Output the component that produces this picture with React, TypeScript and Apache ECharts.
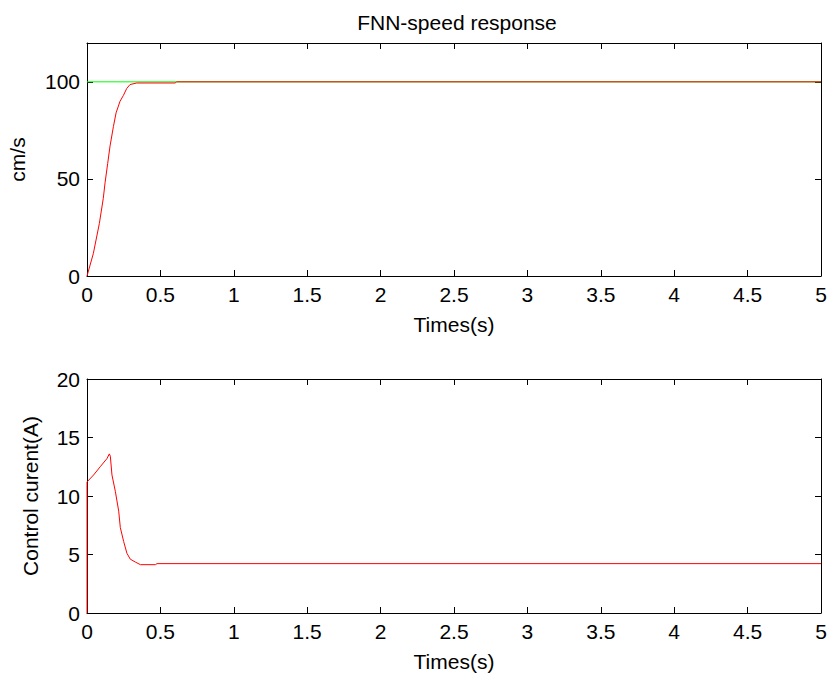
import React, { useEffect, useRef } from "react";
import * as echarts from "echarts";

// Top plot: speed response
const refT = [0, 5];
const refV = [100, 100];
const speedT = [0, 0.043, 0.084, 0.111, 0.123, 0.141, 0.157, 0.18, 0.198, 0.225, 0.248, 0.27, 0.293, 0.339, 0.6, 0.611, 5];
const speedV = [0, 11.5, 27, 40, 48, 58, 67, 77, 84, 90, 93, 96.5, 98.6, 99.4, 99.4, 100, 100];

// Bottom plot: control current
const curT = [0, 0, 0.045, 0.09, 0.136, 0.152, 0.159, 0.17, 0.193, 0.216, 0.227, 0.25, 0.272, 0.295, 0.33, 0.364, 0.466, 0.477, 5];
const curV = [0, 11.2, 11.8, 12.5, 13.2, 13.6, 13.4, 11.8, 10.4, 8.7, 7.3, 6.1, 5.1, 4.6, 4.35, 4.13, 4.13, 4.22, 4.22];

const xTicks = { min: 0, max: 5, interval: 0.5 };
const topY = { min: 0, max: 120, interval: 50 };
const botY = { min: 0, max: 20, interval: 5 };

const titleText = "FNN-speed response";
const xName = "Times(s)";
const topYName = "cm/s";
const botYName = "Control curent(A)";

const FONT = "Liberation Sans, Arial, sans-serif";
const FS = 21;

function zip(a: number[], b: number[]) {
  return a.map((v, i) => [v, b[i]]);
}

export default function App() {
  const ref = useRef<HTMLDivElement>(null);
  useEffect(() => {
    if (!ref.current) return;
    const chart = echarts.init(ref.current, undefined, { renderer: "svg" });
    const axLine = { show: true, onZero: false, lineStyle: { color: "#000", width: 1 } };
    const tick = { show: true, inside: true, length: 6, lineStyle: { color: "#000", width: 1 } };
    const lbl = { color: "#000", fontFamily: FONT, fontSize: FS };
    const mkX = (gi: number, pos: string, showLabel: boolean, name?: string) => ({
      type: "value",
      gridIndex: gi,
      position: pos,
      ...xTicks,
      axisLine: axLine,
      axisTick: tick,
      splitLine: { show: false },
      axisLabel: { ...lbl, show: showLabel, margin: 8, formatter: (v: number) => String(v) },
      name: name,
      nameLocation: "middle",
      nameGap: 38,
      nameTextStyle: { ...lbl },
    });
    const mkY = (gi: number, pos: string, showLabel: boolean, range: any, name?: string, gap?: number) => ({
      type: "value",
      gridIndex: gi,
      position: pos,
      ...range,
      axisLine: axLine,
      axisTick: tick,
      splitLine: { show: false },
      axisLabel: { ...lbl, show: showLabel, margin: 7, showMaxLabel: range.max % range.interval === 0 },
      name: name,
      nameLocation: "middle",
      nameGap: gap,
      nameTextStyle: { ...lbl },
    });
    chart.setOption({
      animation: false,
      backgroundColor: "#fff",
      title: {
        text: titleText,
        left: 452,
        textAlign: "center",
        top: 7,
        textStyle: { color: "#000", fontFamily: FONT, fontSize: FS, fontWeight: "normal" },
      },
      grid: [
        { left: 87, right: 9, top: 43, height: 233, outerBoundsMode: "none", containLabel: false },
        { left: 87, right: 9, top: 379, height: 234, outerBoundsMode: "none", containLabel: false },
      ],
      xAxis: [
        mkX(0, "bottom", true, xName),
        mkX(0, "top", false),
        mkX(1, "bottom", true, xName),
        mkX(1, "top", false),
      ],
      yAxis: [
        mkY(0, "left", true, topY, topYName, 59),
        mkY(0, "right", false, topY),
        mkY(1, "left", true, botY, botYName, 46),
        mkY(1, "right", false, botY),
      ],
      series: [
        {
          type: "line",
          xAxisIndex: 0,
          yAxisIndex: 0,
          data: zip(refT, refV),
          showSymbol: false,
          lineStyle: { color: "#00ff00", width: 1 },
        },
        {
          type: "line",
          xAxisIndex: 0,
          yAxisIndex: 0,
          data: zip(speedT, speedV),
          showSymbol: false,
          lineStyle: { color: "#ff0000", width: 1 },
        },
        {
          type: "line",
          xAxisIndex: 2,
          yAxisIndex: 2,
          data: zip(curT, curV),
          showSymbol: false,
          lineStyle: { color: "#ff0000", width: 1 },
        },
      ],
    });
    return () => chart.dispose();
  }, []);
  return (
    <div
      ref={ref}
      style={{ position: "absolute", left: 0, top: 0, width: 830, height: 675, background: "#fff" }}
    />
  );
}
